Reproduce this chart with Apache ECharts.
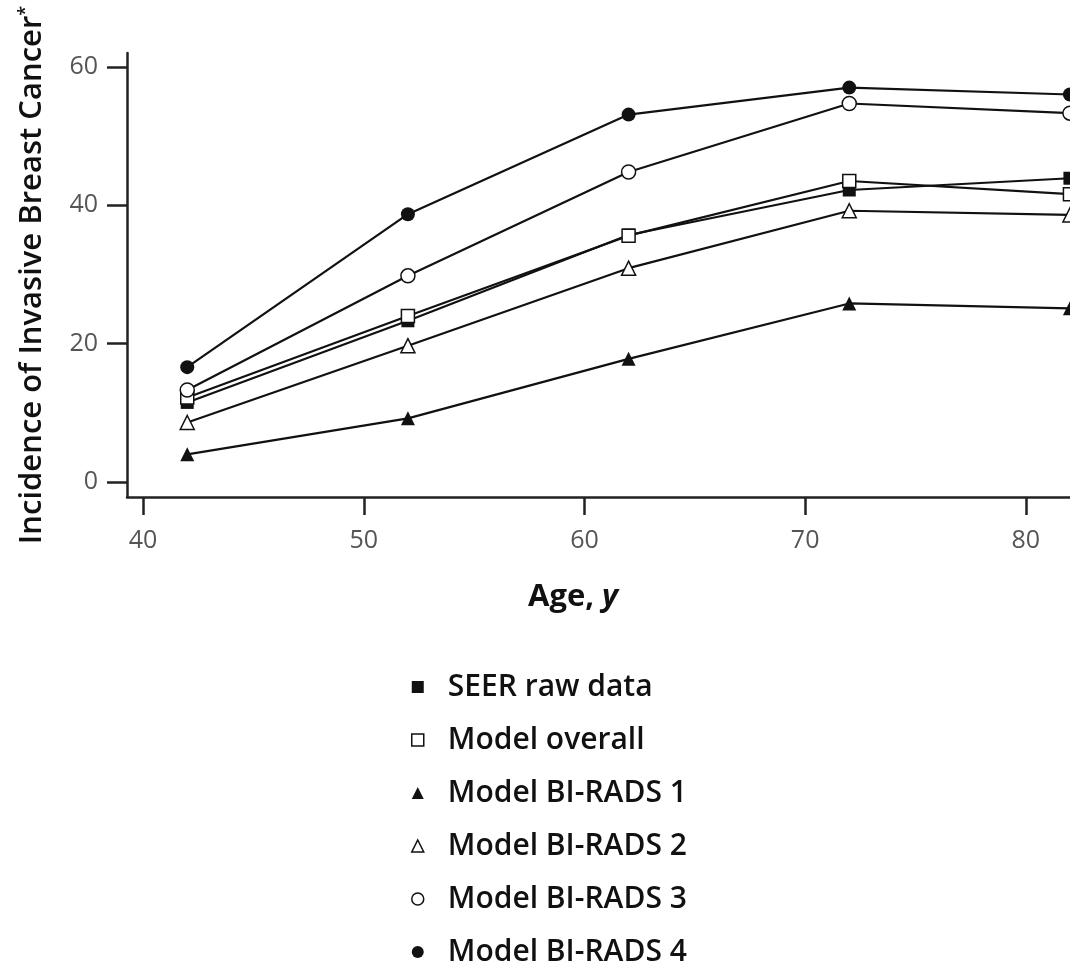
<!DOCTYPE html>
<html>
<head>
<meta charset="utf-8">
<script src="https://cdn.jsdelivr.net/npm/echarts@6/dist/echarts.min.js"></script>
<style>
    html, body { margin: 0; padding: 0; background: #fff; overflow: hidden; }
    #main { width: 1100px; height: 1000px; }
</style>
</head>
<body>
<div id="main"></div>
<script>
    // 数据
    var ages = [42, 52, 62, 72, 82];
    var seerRaw = [11.5, 23.3, 35.7, 42.2, 43.9];
    var modelOverall = [12.2, 24.0, 35.6, 43.5, 41.6];
    var birads1 = [4.0, 9.2, 17.8, 25.8, 25.1];
    var birads2 = [8.6, 19.7, 30.9, 39.2, 38.6];
    var birads3 = [13.3, 29.8, 44.8, 54.7, 53.3];
    var birads4 = [16.6, 38.7, 53.1, 57.0, 56.0];
    var xTicks = [40, 50, 60, 70, 80];
    var yTicks = [0, 20, 40, 60];

    var font = '"Open Sans", "Noto Sans", sans-serif';
    var black = '#111';

    function pairs(vals) {
        return ages.map(function (a, i) { return [a, vals[i]]; });
    }

    // 每条线的标记样式
    var seriesDefs = [
        { name: 'SEER raw data', data: seerRaw, symbol: 'rect', open: false },
        { name: 'Model overall', data: modelOverall, symbol: 'rect', open: true },
        { name: 'Model BI-RADS 1', data: birads1, symbol: 'triangle', open: false },
        { name: 'Model BI-RADS 2', data: birads2, symbol: 'triangle', open: true },
        { name: 'Model BI-RADS 3', data: birads3, symbol: 'circle', open: true },
        { name: 'Model BI-RADS 4', data: birads4, symbol: 'circle', open: false }
    ];

    function markStyle(open) {
        return open
            ? { color: '#fff', borderColor: black, borderWidth: 1.5 }
            : { color: black, borderColor: black, borderWidth: 0 };
    }

    var series = seriesDefs.map(function (d) {
        return {
            name: d.name,
            type: 'line',
            data: pairs(d.data),
            symbol: d.symbol,
            symbolSize: d.symbol === 'rect' ? 13 : 14,
            showAllSymbol: true,
            lineStyle: { color: black, width: 2.2 },
            itemStyle: markStyle(d.open),
            clip: false
        };
    });

    var el = document.getElementById('main');
    var myChart = echarts.init(el);
    var option = {
        backgroundColor: '#fff',
        animation: false,
        grid: { left: 127, top: 53, width: 965, height: 444 },
        xAxis: {
            type: 'value',
            min: 39.27,
            max: 83,
            splitLine: { show: false },
            axisLine: { onZero: false, lineStyle: { color: '#222', width: 2.5 } },
            axisTick: { customValues: xTicks, length: 18, lineStyle: { color: '#222', width: 2.5 } },
            axisLabel: { customValues: xTicks, color: '#555', fontSize: 25, fontFamily: font, margin: 31 }
        },
        yAxis: {
            type: 'value',
            min: -2.17,
            max: 62,
            splitLine: { show: false },
            name: 'Incidence of Invasive Breast Cancer{s|*}',
            nameLocation: 'middle',
            nameGap: 79,
            nameRotate: 90,
            nameTextStyle: {
                color: black, fontSize: 31, fontWeight: 600, fontFamily: font,
                rich: { s: { fontSize: 18, fontWeight: 600, verticalAlign: 'top', color: black, padding: [0, 0, 12, 0] } }
            },
            axisLine: { onZero: false, lineStyle: { color: '#222', width: 2.5 } },
            axisTick: { customValues: yTicks, length: 20, lineStyle: { color: '#222', width: 2.5 } },
            axisLabel: { customValues: yTicks, color: '#555', fontSize: 25, fontFamily: font, margin: 29 }
        },
        legend: {
            orient: 'vertical',
            left: 406,
            top: 667,
            itemWidth: 12,
            itemHeight: 12,
            itemGap: 23,
            textStyle: { color: black, fontSize: 30, fontWeight: 600, fontFamily: font, lineHeight: 30, padding: [0, 0, 0, 19] },
            data: seriesDefs.map(function (d) {
                return { name: d.name, icon: d.symbol, itemStyle: markStyle(d.open) };
            })
        },
        graphic: [{
            type: 'text',
            left: 528,
            top: 582,
            style: {
                text: 'Age, {i|y}',
                font: 'bold 31px ' + font,
                fill: black,
                rich: { i: { fontStyle: 'italic', fontWeight: 'bold', fontSize: 31, fontFamily: font, fill: black } }
            }
        }],
        series: series
    };
    myChart.setOption(option);
</script>
</body>
</html>
